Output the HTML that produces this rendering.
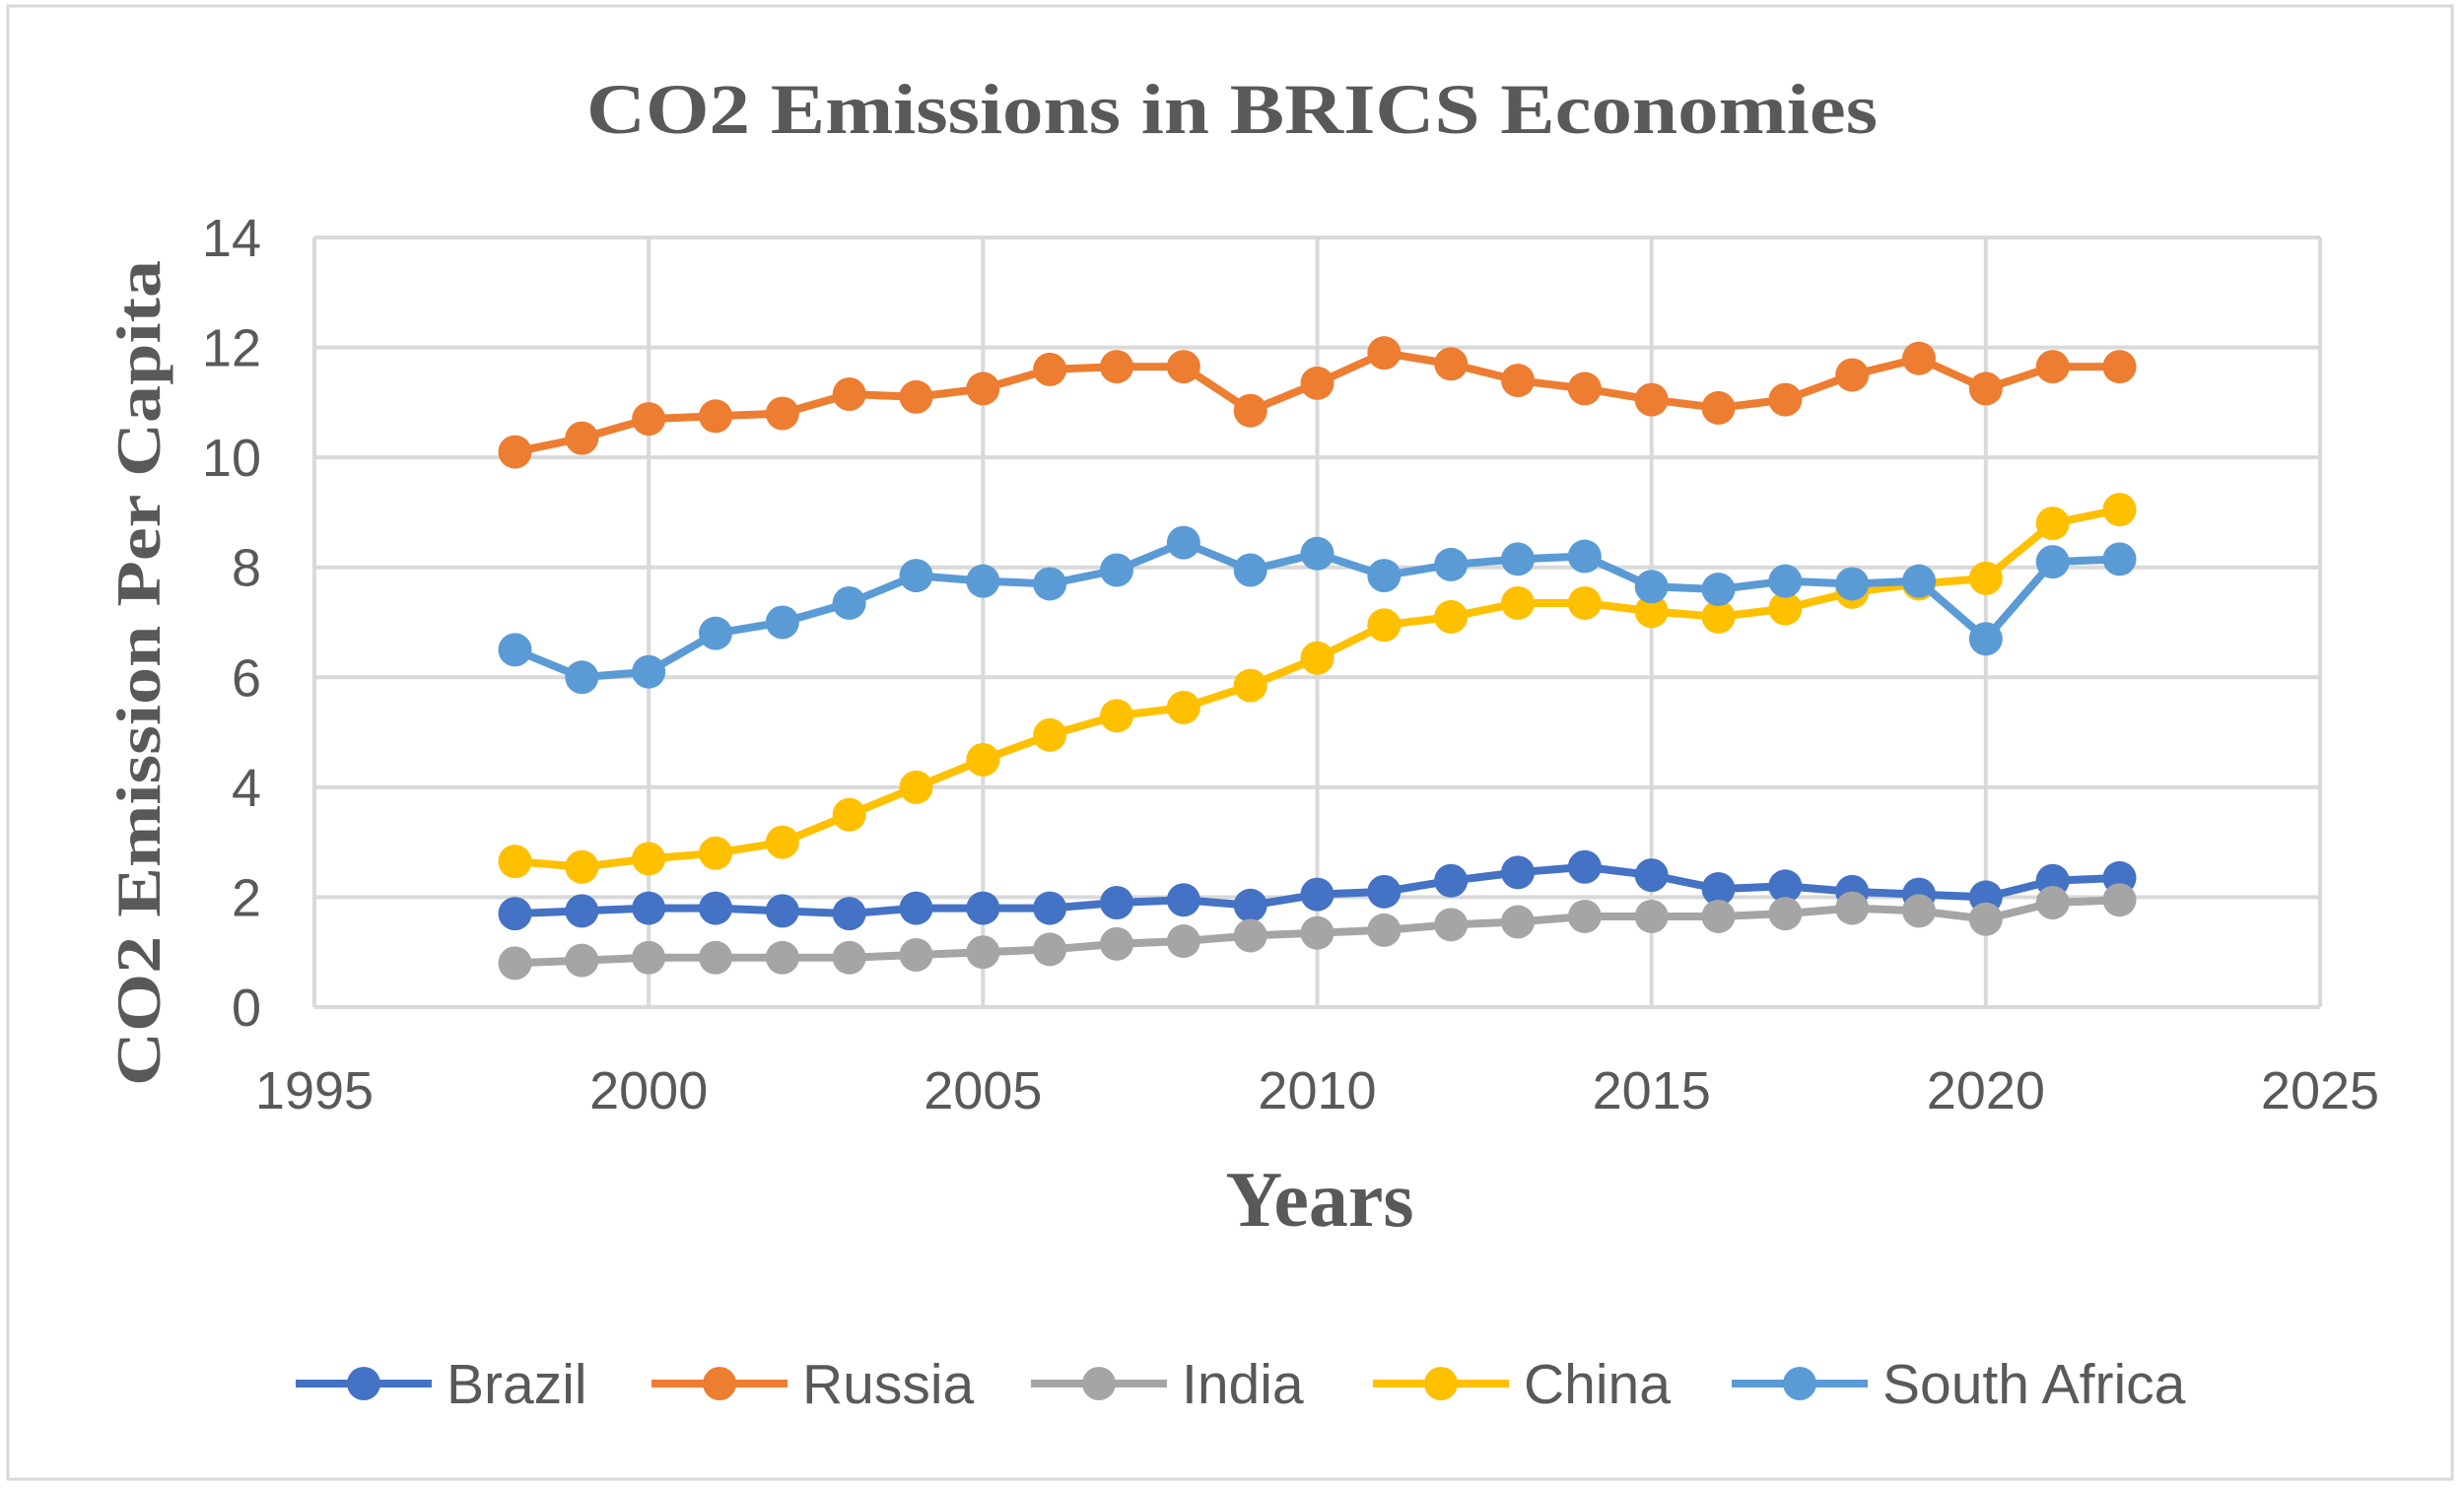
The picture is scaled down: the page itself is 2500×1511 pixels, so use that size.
<!DOCTYPE html>
<html><head><meta charset="utf-8"><style>
html,body{margin:0;padding:0;background:#fff;}
svg{display:block;}
</style></head><body>
<svg id="chart" width="2500" height="1511" xmlns="http://www.w3.org/2000/svg">
<rect x="0" y="0" width="2500" height="1511" fill="#fff"/>
<rect x="8" y="6" width="2480" height="1495" fill="none" stroke="#d9d9d9" stroke-width="3"/>
<text x="1250" y="135" text-anchor="middle" font-family="Liberation Serif, serif" font-weight="bold" font-size="72" fill="#595959" textLength="1310" lengthAdjust="spacingAndGlyphs">CO2 Emissions in BRICS Economies</text>
<g id="grid"></g>
<g id="series"></g>
<text transform="translate(162,683) rotate(-90)" text-anchor="middle" font-family="Liberation Serif, serif" font-weight="bold" font-size="64" fill="#595959" textLength="838" lengthAdjust="spacingAndGlyphs">CO2 Emission Per Capita</text>
<text x="1339" y="1244" text-anchor="middle" font-family="Liberation Serif, serif" font-weight="bold" font-size="80" fill="#595959">Years</text>
<g id="legend"></g>
</svg>
<script>
const years=[1998,1999,2000,2001,2002,2003,2004,2005,2006,2007,2008,2009,2010,2011,2012,2013,2014,2015,2016,2017,2018,2019,2020,2021,2022];
const brazil=[1.7,1.75,1.8,1.8,1.75,1.7,1.8,1.8,1.8,1.9,1.95,1.85,2.05,2.1,2.3,2.45,2.55,2.4,2.15,2.2,2.1,2.05,2.0,2.3,2.35];
const russia=[10.1,10.35,10.7,10.75,10.8,11.15,11.1,11.25,11.6,11.65,11.65,10.85,11.35,11.9,11.7,11.4,11.25,11.05,10.9,11.05,11.5,11.8,11.25,11.65,11.65];
const india=[0.8,0.85,0.9,0.9,0.9,0.9,0.95,1.0,1.05,1.15,1.2,1.3,1.35,1.4,1.5,1.55,1.65,1.65,1.65,1.7,1.8,1.75,1.6,1.9,1.95];
const china=[2.65,2.55,2.7,2.8,3.0,3.5,4.0,4.5,4.95,5.3,5.45,5.85,6.35,6.95,7.1,7.35,7.35,7.2,7.1,7.25,7.55,7.7,7.8,8.8,9.05];
const southAfrica=[6.5,6.0,6.1,6.8,7.0,7.35,7.85,7.75,7.7,7.95,8.45,7.95,8.25,7.85,8.05,8.15,8.2,7.65,7.6,7.75,7.7,7.75,6.7,8.1,8.15];
const seriesNames=["Brazil","Russia","India","China","South Africa"];
const xTicks=[1995,2000,2005,2010,2015,2020,2025];
const yTicks=[0,2,4,6,8,10,12,14];

const NS="http://www.w3.org/2000/svg";
const L=319,R=2354,T=241,B=1022;
const xMin=1995,xMax=2025,yMin=0,yMax=14;
const xs=v=>L+(v-xMin)/(xMax-xMin)*(R-L);
const ys=v=>B-(v-yMin)/(yMax-yMin)*(B-T);
function mk(tag,attrs,parent){const e=document.createElementNS(NS,tag);for(const k in attrs)e.setAttribute(k,attrs[k]);parent.appendChild(e);return e;}
const grid=document.getElementById('grid');
yTicks.forEach(t=>{
  const l=mk('line',{x1:L,x2:R,y1:ys(t),y2:ys(t),stroke:'#d9d9d9','stroke-width':4},grid);
  
  
  const tx=mk('text',{x:L-54,y:ys(t)+19,'text-anchor':'end','font-family':'Liberation Sans, sans-serif','font-size':54,fill:'#595959'},grid);
  tx.textContent=t;
  
  
});
xTicks.forEach(t=>{
  const l=mk('line',{x1:xs(t),x2:xs(t),y1:T,y2:B,stroke:'#d9d9d9','stroke-width':4},grid);
  
  
  const tx=mk('text',{x:xs(t),y:B+103,'text-anchor':'middle','font-family':'Liberation Sans, sans-serif','font-size':54,fill:'#595959'},grid);
  tx.textContent=t;
  
  
});
const colors=['#4472c4','#ed7d31','#a5a5a5','#ffc000','#5b9bd5'];
const data=[brazil,russia,india,china,southAfrica];
const sg=document.getElementById('series');
data.forEach((vals,i)=>{
  const g=mk('g',{},sg);
  
  
  const pts=vals.map((v,j)=>xs(years[j])+','+ys(v)).join(' ');
  const pl=mk('polyline',{points:pts,fill:'none',stroke:colors[i],'stroke-width':8,'stroke-linejoin':'round'},g);
  
  
  vals.forEach((v,j)=>{
    const c=mk('circle',{cx:xs(years[j]),cy:ys(v),r:17,fill:colors[i]},g);
    
    
  });
});
const lg=document.getElementById('legend');
const lx=[300,661,1046,1393,1757];
seriesNames.forEach((n,i)=>{
  const g=mk('g',{},lg);
  
  
  mk('line',{x1:lx[i],x2:lx[i]+138,y1:1404,y2:1404,stroke:colors[i],'stroke-width':8},g);
  mk('circle',{cx:lx[i]+69,cy:1404,r:17,fill:colors[i]},g);
  const t=mk('text',{x:lx[i]+153,y:1424,'font-family':'Liberation Sans, sans-serif','font-size':57,fill:'#595959'},g);
  t.textContent=n;
});
</script>
</body></html>
